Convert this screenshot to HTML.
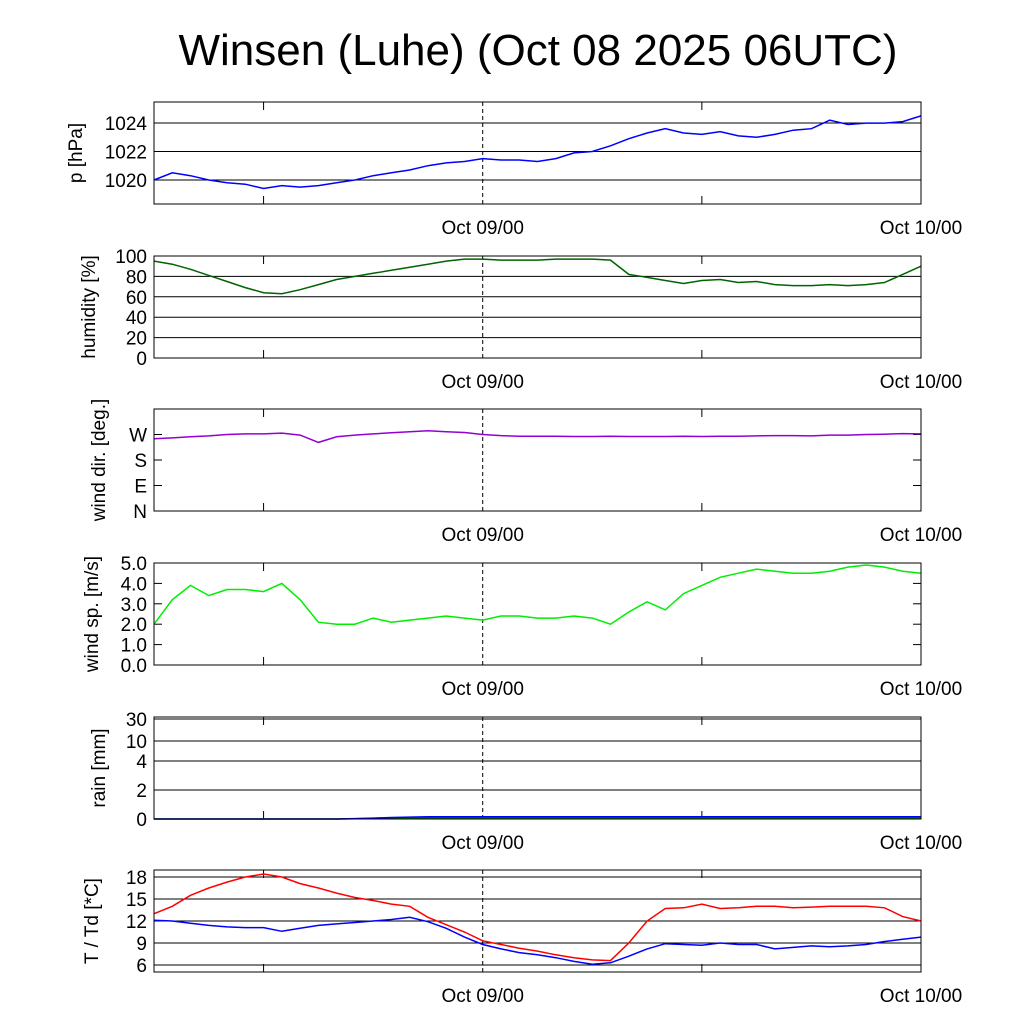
<!DOCTYPE html>
<html><head><meta charset="utf-8">
<style>
body{margin:0;background:#fff;}
svg{display:block;font-family:"Liberation Sans",sans-serif;}
</style></head>
<body>
<svg id="chart" width="1024" height="1024" viewBox="0 0 1024 1024">
<text x="538" y="65" font-size="44" text-anchor="middle">Winsen (Luhe) (Oct 08 2025 06UTC)</text>
</svg>
<script>
const hours = [0,1,2,3,4,5,6,7,8,9,10,11,12,13,14,15,16,17,18,19,20,21,22,23,24,25,26,27,28,29,30,31,32,33,34,35,36,37,38,39,40,41,42];
const pressure = [1020,1020.5,1020.3,1020,1019.8,1019.7,1019.4,1019.6,1019.5,1019.6,1019.8,1020,1020.3,1020.5,1020.7,1021,1021.2,1021.3,1021.5,1021.4,1021.4,1021.3,1021.5,1021.9,1022,1022.4,1022.9,1023.3,1023.6,1023.3,1023.2,1023.4,1023.1,1023.0,1023.2,1023.5,1023.6,1024.2,1023.9,1024,1024,1024.1,1024.5];
const humidity = [95,92,87,81,75,69,64,63,67,72,77,80,83,86,89,92,95,97,97,96,96,96,97,97,97,96,82,79,76,73,76,77,74,75,72,71,71,72,71,72,74,82,90];
const windDir = [255,258,262,265,270,272,272,275,268,242,262,268,272,276,280,283,280,277,270,266,264,264,264,263,263,264,263,263,263,264,263,264,264,265,266,266,265,268,268,270,271,273,272];
const windSpeed = [2.0,3.2,3.9,3.4,3.7,3.7,3.6,4.0,3.2,2.1,2.0,2.0,2.3,2.1,2.2,2.3,2.4,2.3,2.2,2.4,2.4,2.3,2.3,2.4,2.3,2.0,2.6,3.1,2.7,3.5,3.9,4.3,4.5,4.7,4.6,4.5,4.5,4.6,4.8,4.9,4.8,4.6,4.5];
const rainA = [0,0,0,0,0,0,0,0,0,0,0,0.03,0.06,0.1,0.13,0.15,0.15,0.15,0.15,0.15,0.15,0.15,0.15,0.15,0.15,0.15,0.15,0.15,0.15,0.15,0.15,0.15,0.15,0.15,0.15,0.15,0.15,0.15,0.15,0.15,0.15,0.15,0.15];
const rainB = [0,0,0,0,0,0,0,0,0,0,0,0.02,0.04,0.06,0.08,0.08,0.08,0.08,0.08,0.08,0.08,0.08,0.08,0.08,0.08,0.08,0.08,0.08,0.08,0.08,0.08,0.08,0.08,0.08,0.08,0.08,0.08,0.08,0.08,0.08,0.08,0.08,0.08];
const temp = [13,14,15.5,16.5,17.3,18,18.4,18,17.1,16.5,15.8,15.2,14.8,14.3,14,12.5,11.5,10.5,9.3,8.8,8.3,7.9,7.4,7,6.7,6.6,9,12,13.7,13.8,14.3,13.7,13.8,14,14,13.8,13.9,14,14,14,13.8,12.6,12];
const dew = [12.1,12,11.7,11.4,11.2,11.1,11.1,10.6,11,11.4,11.6,11.8,12,12.2,12.5,11.9,11,9.8,8.8,8.2,7.7,7.4,7,6.5,6.1,6.3,7.2,8.2,8.9,8.8,8.7,9,8.8,8.8,8.2,8.4,8.6,8.5,8.6,8.8,9.2,9.5,9.8];
const pTicks = [1020,1022,1024];
const hTicks = [0,20,40,60,80,100];
const dTicks = ["N","E","S","W"];
const sTicks = ["0.0","1.0","2.0","3.0","4.0","5.0"];
const rTicks = ["0","2","4","10","30"];
const tTicks = [6,9,12,15,18];

const NS="http://www.w3.org/2000/svg";
const svg=document.getElementById('chart');
const X0=154,X1=921;
const xs=h=>X0+(h/42)*(X1-X0);
function el(tag,attrs,parent){const e=document.createElementNS(NS,tag);for(const k in attrs)e.setAttribute(k,attrs[k]);(parent||svg).appendChild(e);return e;}

function panel(name,top,bot,label,lx,yfn,ticks,tickVals,grid,series){
  const g=el('g',{});
  
  
  ticks.forEach((t,i)=>{
    const y=yfn(tickVals[i]);
    if(grid){const l=el('line',{x1:X0,x2:X1,y1:y,y2:y,stroke:'#000','stroke-width':1},g);
      
      }
    else{el('line',{x1:X0,x2:X0+8,y1:y,y2:y,stroke:'#000'},g);el('line',{x1:X1-8,x2:X1,y1:y,y2:y,stroke:'#000'},g);}
    const t2=el('text',{x:X0-7,y:y+7,'font-size':19,'text-anchor':'end'},g);
    t2.textContent=t;
    
    
  });
  [6,30].forEach(h=>{el('line',{x1:xs(h),x2:xs(h),y1:bot,y2:bot-8,stroke:'#000'},g);el('line',{x1:xs(h),x2:xs(h),y1:top,y2:top+8,stroke:'#000'},g);});
  const dl=el('line',{x1:xs(18),x2:xs(18),y1:top,y2:bot,stroke:'#000','stroke-dasharray':'4,3'},g);
  
  
  series.forEach(s=>{
    const pts=s.data.map((v,i)=>xs(hours[i]).toFixed(1)+','+yfn(v).toFixed(1)).join(' ');
    const p=el('polyline',{points:pts,fill:'none',stroke:s.color,'stroke-width':1.5},g);
    
    
  });
  const fr=el('rect',{x:X0,y:top,width:X1-X0,height:bot-top,fill:'none',stroke:'#000','stroke-width':1},g);
  
  
  const cy=(top+bot)/2;
  const yl=el('text',{x:0,y:0,'font-size':19,'text-anchor':'middle',transform:`translate(${lx},${cy}) rotate(-90)`},g);
  yl.textContent=label;
  
  
  [[18,'Oct 09/00'],[42,'Oct 10/00']].forEach(([h,s])=>{
    const t=el('text',{x:xs(h),y:bot+30,'font-size':19,'text-anchor':'middle'},g);
    t.textContent=s;
    
    
  });
}
const lin=(top,bot,v0,v1)=>v=>bot-(v-v0)/(v1-v0)*(bot-top);
panel('pressure',102,204,'p [hPa]',82,lin(102,204,1018.31,1025.48),pTicks,pTicks,true,[{name:'pressure-line',data:pressure,color:'#0000ff'}]);
panel('humidity',256,358,'humidity [%]',95,lin(256,358,0,100),hTicks,hTicks,true,[{name:'humidity-line',data:humidity,color:'#006400'}]);
panel('wind-direction',409,511,'wind dir. [deg.]',105,lin(409,511,0,360),dTicks,[0,90,180,270],false,[{name:'wind-direction-line',data:windDir,color:'#9400d3'}]);
panel('wind-speed',563,665,'wind sp. [m/s]',98,lin(563,665,0,5),sTicks,[0,1,2,3,4,5],false,[{name:'wind-speed-line',data:windSpeed,color:'#00ee00'}]);
const rainY=v=>{const k=[0,2,4,10,30],p=[819,790,761,741,719];for(let i=0;i<4;i++){if(v<=k[i+1])return p[i]+(v-k[i])/(k[i+1]-k[i])*(p[i+1]-p[i]);}return 719;};
panel('rain',717,819,'rain [mm]',105,rainY,rTicks,[0,2,4,10,30],true,[{name:'rain-green-line',data:rainB,color:'#008000'},{name:'rain-blue-line',data:rainA,color:'#0000ff'}]);
panel('temperature',870,972,'T / Td [*C]',98,lin(870,972,5.05,18.95),tTicks,tTicks,true,[{name:'dewpoint-line',data:dew,color:'#0000ff'},{name:'temperature-line',data:temp,color:'#ff0000'}]);
</script>
</body></html>
